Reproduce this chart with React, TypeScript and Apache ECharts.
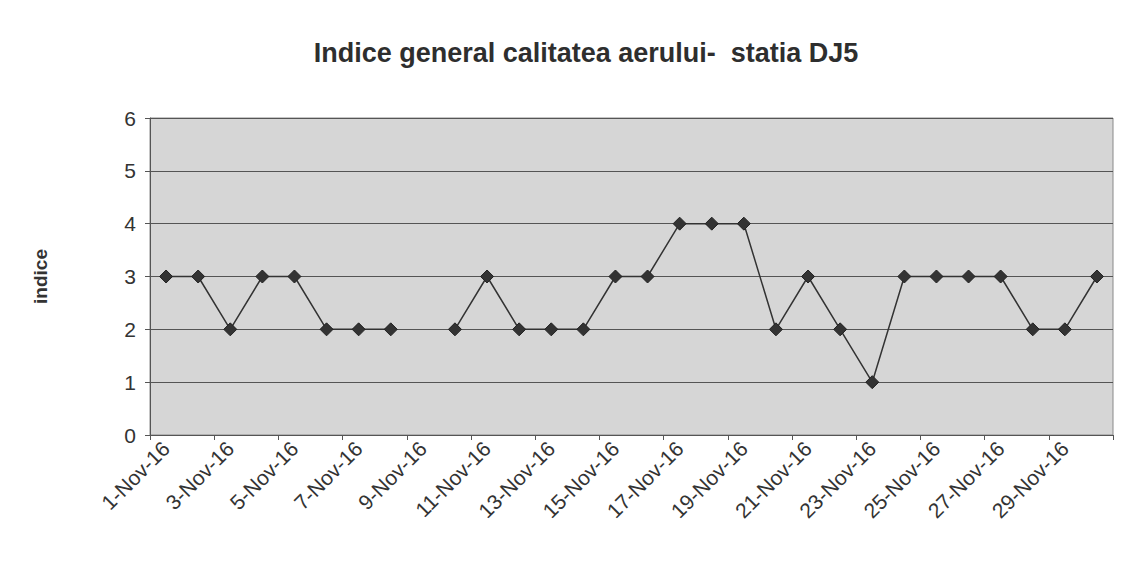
import React, { useEffect, useRef } from "react";
import * as echarts from "echarts";

const days: string[] = Array.from({ length: 30 }, (_, i) => `${i + 1}-Nov-16`);
const indiceValues: (number | null)[] = [
  3, 3, 2, 3, 3, 2, 2, 2, null, 2,
  3, 2, 2, 2, 3, 3, 4, 4, 4, 2,
  3, 2, 1, 3, 3, 3, 3, 2, 2, 3,
];
const titleText = "Indice general calitatea aerului-  statia DJ5";
const yName = "indice";

export default function App() {
  const ref = useRef<HTMLDivElement>(null);
  useEffect(() => {
    if (!ref.current) return;
    const chart = echarts.init(ref.current, undefined, { renderer: "svg" });
    chart.setOption({
      animation: false,
      backgroundColor: "#ffffff",
      textStyle: { fontFamily: "Liberation Sans, Arial, sans-serif" },
      title: {
        text: titleText,
        left: 573,
        top: 26,
        textAlign: "center",
        textStyle: { fontSize: 27, fontWeight: "bold", color: "#2e2e2e", fontFamily: "Liberation Sans, Arial, sans-serif" },
      },
      grid: { left: 142, right: 12, top: 110, bottom: 130, backgroundColor: "#d6d6d6", show: true, borderColor: "#8a8a8a", borderWidth: 1 },
      xAxis: {
        type: "category",
        data: days,
        boundaryGap: true,
        axisLine: { lineStyle: { color: "#555", width: 1 } },
        axisTick: { show: true, interval: 1, length: 5, lineStyle: { color: "#555" } },
        axisLabel: { interval: 1, rotate: 45, fontSize: 21, color: "#333", margin: 10, fontFamily: "Liberation Sans, Arial, sans-serif" },
        splitLine: { show: false },
      },
      yAxis: {
        type: "value",
        min: 0,
        max: 6,
        interval: 1,
        name: yName,
        nameLocation: "middle",
        nameGap: 100,
        nameTextStyle: { fontSize: 19, color: "#333", fontWeight: "bold", fontFamily: "Liberation Sans, Arial, sans-serif" },
        axisLine: { show: true, lineStyle: { color: "#555" } },
        axisTick: { show: true, length: 5, lineStyle: { color: "#555" } },
        axisLabel: { fontSize: 21, color: "#333", margin: 14, fontFamily: "Liberation Sans, Arial, sans-serif" },
        splitLine: { show: true, lineStyle: { color: "#555", width: 1 } },
      },
      series: [
        {
          type: "line",
          data: indiceValues,
          connectNulls: false,
          symbol: "diamond",
          symbolSize: 13,
          itemStyle: { color: "#333333", borderColor: "#222", borderWidth: 1 },
          lineStyle: { color: "#333333", width: 1.5 },
        },
      ],
    });
    return () => chart.dispose();
  }, []);
  return <div ref={ref} style={{ width: 1117, height: 557 }} />;
}
